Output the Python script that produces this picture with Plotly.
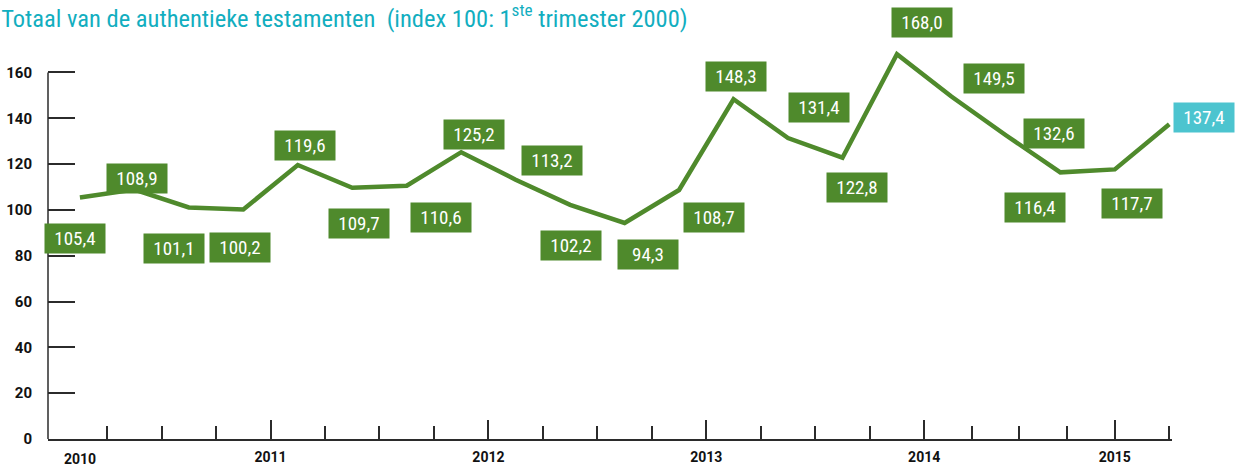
import plotly.graph_objects as go

# ---- data ----
quarters = list(range(21))  # 2010 Q1 ... 2015 Q1
values = [105.4, 108.9, 101.1, 100.2, 119.6, 109.7, 110.6, 125.2, 113.2, 102.2,
          94.3, 108.7, 148.3, 131.4, 122.8, 168.0, 149.5, 132.6, 116.4, 117.7, 137.4]
year_labels = ["2011", "2012", "2013", "2014", "2015"]
year_ticks = [3.5, 7.5, 11.5, 15.5, 19]
quarter_ticks = [0.5, 1.5, 2.5, 4.5, 5.5, 6.5, 8.5, 9.5, 10.5, 12.5, 13.5, 14.5,
                 16.375, 17.25, 18.125, 20]
y_ticks = [0, 20, 40, 60, 80, 100, 120, 140, 160]

# ---- style: label box offsets (px) relative to each point ----
label_offsets = [(-5, 41), (3, -11), (-15, 41), (-3, 38), (7, -20), (7, 36), (34, 32),
                 (13, -18), (36, -19), (1, 41), (23, 32), (35, 27), (2, -23), (31, -31),
                 (15, 30), (25, -32), (43, -18), (48, -2), (-25, 35), (17, 34), (35, -7)]

GREEN = "#4f8a2c"
TEAL = "#12aebf"
TEAL_LIGHT = "#4cc4cf"
AXIS = "#2b2b2b"
FONT_COND = "Roboto Condensed, Liberation Sans Narrow, DejaVu Sans Condensed, Roboto, sans-serif"
FONT_BOLD = "Roboto, Liberation Sans, sans-serif"

fig = go.Figure()
fig.add_trace(go.Scatter(
    x=quarters, y=values, mode="lines",
    line=dict(color=GREEN, width=4.5),
    hoverinfo="skip", showlegend=False,
))

annotations = []
for i, (q, v) in enumerate(zip(quarters, values)):
    dx, dy = label_offsets[i]
    last = i == len(values) - 1
    annotations.append(dict(
        x=q, y=v, xref="x", yref="y",
        text=f"{v:.1f}".replace(".", ","),
        showarrow=False, xshift=dx, yshift=-dy,
        xanchor="center", yanchor="middle",
        width=56, height=25, borderpad=2,
        bgcolor=TEAL_LIGHT if last else GREEN,
        font=dict(family=FONT_COND, size=19, color="white"),
    ))

# first year label (no tall tick under it)
annotations.append(dict(
    x=0, y=0, xref="x", yref="y", text="2010", showarrow=False,
    yshift=-20, xanchor="center", yanchor="middle",
    font=dict(family=FONT_BOLD, size=14, color="#111111", weight="bold"),
))

fig.update_layout(
    width=1238, height=469,
    margin=dict(l=48, r=66, t=45, b=30, autoexpand=False),
    plot_bgcolor="white", paper_bgcolor="white",
    title=dict(
        text="Totaal van de authentieke testamenten  (index 100: 1<sup>ste</sup> trimester 2000)",
        x=0.001, xref="container", xanchor="left",
        y=1 - 18 / 469, yref="container", yanchor="middle",
        font=dict(family=FONT_COND, size=24.5, color=TEAL),
    ),
    xaxis=dict(
        range=[-0.586, 20.05], showgrid=False, zeroline=False,
        showline=True, linecolor=AXIS, linewidth=1.5,
        tickmode="array", tickvals=year_ticks, ticktext=year_labels,
        ticks="inside", ticklen=19, tickwidth=1.5, tickcolor=AXIS,
        tickfont=dict(family=FONT_BOLD, size=14, color="#111111", weight="bold"),
        ticklabelstandoff=4,
        minor=dict(tickmode="array", tickvals=quarter_ticks, ticks="inside",
                   ticklen=13, tickwidth=1.5, tickcolor=AXIS, showgrid=False),
    ),
    yaxis=dict(
        range=[0, 172], showgrid=False, zeroline=False, showline=False,
        tickmode="array", tickvals=y_ticks,
        ticks="inside", ticklen=27, tickwidth=1.5, tickcolor=AXIS,
        tickfont=dict(family=FONT_BOLD, size=15, color="#111111", weight="bold"),
        ticklabelstandoff=15,
    ),
    annotations=annotations,
    shapes=[dict(type="line", xref="paper", yref="y", x0=0, x1=0, y0=0, y1=160,
                 line=dict(color=AXIS, width=1.5), layer="above")],
)

fig.write_html("out.html", config={"displayModeBar": False},
               post_script="document.body.style.margin='0';")
